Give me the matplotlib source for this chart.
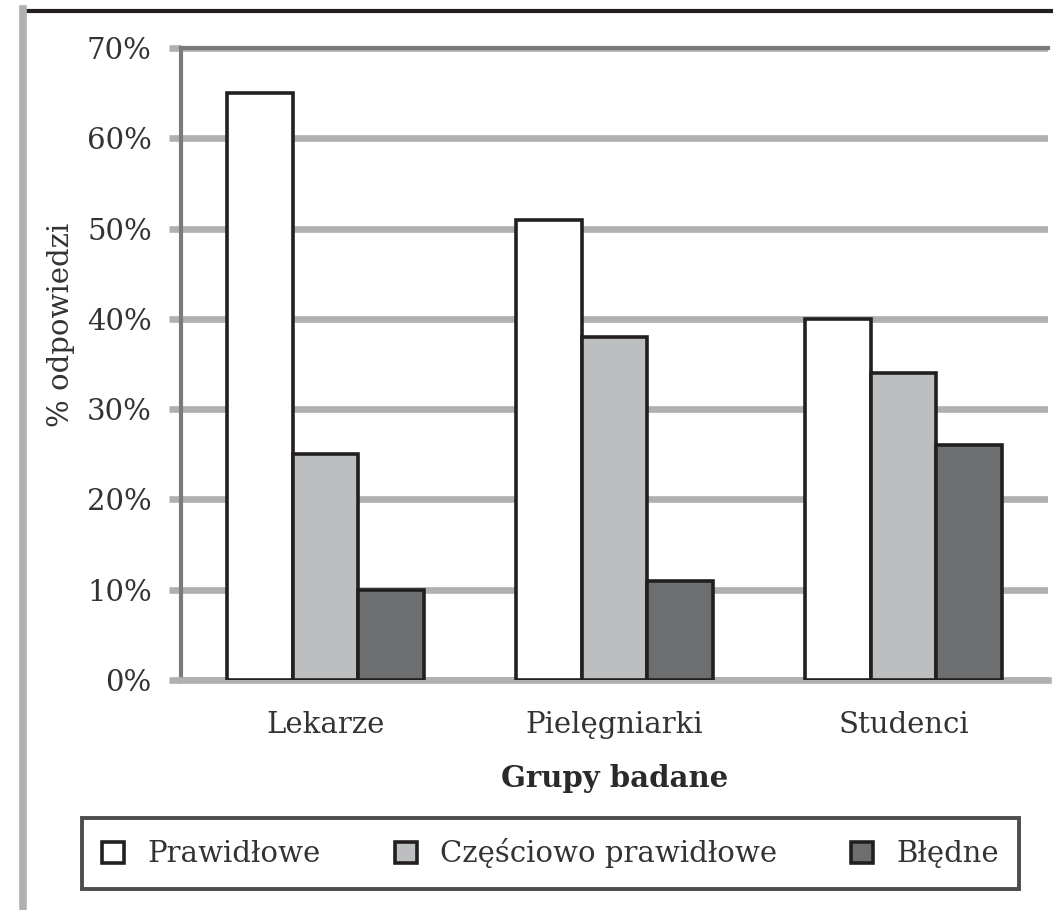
import matplotlib
matplotlib.use("Agg")
import matplotlib.pyplot as plt
import numpy as np
from matplotlib.lines import Line2D
from matplotlib.patches import Patch

categories = ["Lekarze", "Pielęgniarki", "Studenci"]
series_names = ["Prawidłowe", "Częściowo prawidłowe", "Błędne"]
prawidlowe = [65, 51, 40]
czesciowo = [25, 38, 34]
bledne = [10, 11, 26]
yticks = [0, 10, 20, 30, 40, 50, 60, 70]
ytick_labels = ["0%", "10%", "20%", "30%", "40%", "50%", "60%", "70%"]

colors = ["#ffffff", "#bdbec0", "#6d6e70"]
edge = "#231f20"
grid_c = "#b0b0b0"
text_c = "#333333"

plt.rcParams['font.family'] = ['DejaVu Serif']

fig = plt.figure(figsize=(10.53, 9.10), dpi=100)
ax = fig.add_axes([181/1053, 1-680/910, (1048-181)/1053, (680-48)/910])

x = np.arange(len(categories))
w = 0.228
series = [prawidlowe, czesciowo, bledne]
for i, (vals, c) in enumerate(zip(series, colors)):
    ax.bar(x + (i-1)*w, vals, width=w, color=c, edgecolor=edge, linewidth=2.6, zorder=3)

ax.set_xlim(-0.5, 2.5)
ax.set_ylim(0, 70)
ax.set_yticks(yticks)
ax.set_yticklabels(ytick_labels)
ax.set_xticks(x)
ax.set_xticklabels(categories)

ax.yaxis.grid(True, color=grid_c, linewidth=4.8, zorder=0)
ax.set_axisbelow(True)
ax.tick_params(axis='y', length=9, width=4.8, color=grid_c, pad=12, labelsize=21, labelcolor=text_c)
ax.tick_params(axis='x', length=0, pad=22, labelsize=21, labelcolor=text_c)

ax.spines["right"].set_visible(False)
ax.spines["left"].set_color("#7a7a7a")
ax.spines["left"].set_linewidth(3)
ax.spines["top"].set_color("#7a7a7a")
ax.spines["top"].set_linewidth(3)
ax.spines["bottom"].set_color(grid_c)
ax.spines["bottom"].set_linewidth(4.8)

ax.set_ylabel("% odpowiedzi", fontsize=21, color=text_c)
ax.yaxis.set_label_coords((75-181)/867, 0.562)
ax.set_xlabel("Grupy badane", fontsize=21, fontweight="bold", color="#2a2a2a", labelpad=18)

handles = [Patch(facecolor=c, edgecolor=edge, linewidth=2.6) for c in colors]
leg = fig.legend(handles, series_names, loc="center",
                 bbox_to_anchor=(82/1053, 1-890/910, (1019-82)/1053, 73/910),
                 mode="expand", ncol=3, fontsize=21, frameon=True, fancybox=False,
                 handlelength=0.75, handleheight=0.75, handletextpad=0.8,
                 borderaxespad=0, borderpad=0.7)
leg.get_frame().set_edgecolor(edge)
leg.get_frame().set_linewidth(2.8)
for t in leg.get_texts():
    t.set_color(text_c)

# figure border lines
fig.add_artist(Line2D([23/1053, 1.0], [1-11/910, 1-11/910], color=edge, linewidth=3, transform=fig.transFigure))
fig.add_artist(Line2D([22.5/1053, 22.5/1053], [0, 1-9/910], color=grid_c, linewidth=5.5, transform=fig.transFigure))

fig.savefig("out.png", dpi=100)
